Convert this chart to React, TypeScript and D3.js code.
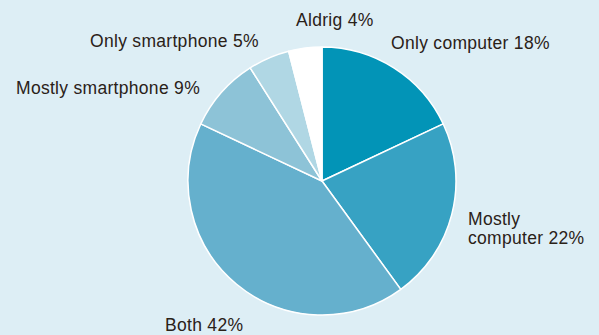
import React from "react";
import * as d3 from "d3";

const categories = ["Only computer", "Mostly computer", "Both", "Mostly smartphone", "Only smartphone", "Aldrig"];
const values = [18, 22, 42, 9, 5, 4];
const colors = ["#0294b7", "#37a2c3", "#65b0cd", "#8dc3d7", "#b0d7e4", "#ffffff"];
const labelLines = [
  ["Only computer 18%"],
  ["Mostly", "computer 22%"],
  ["Both 42%"],
  ["Mostly smartphone 9%"],
  ["Only smartphone 5%"],
  ["Aldrig 4%"],
];
const labelPos: [number, number][] = [
  [391, 48.5],
  [468, 225],
  [165, 330.5],
  [16, 93.5],
  [90, 46.5],
  [296, 25.5],
];

export default function App() {
  const W = 599, H = 335;
  const cx = 322, cy = 181, r = 134;
  const data = categories.map((c, i) => ({ c, v: values[i], i }));
  const pie = d3.pie<any>().value((d) => d.v).sort(null);
  const arc = d3.arc<any>().innerRadius(0).outerRadius(r);
  const arcs = pie(data);
  return (
    <svg width={W} height={H} style={{ position: "absolute", left: 0, top: 0 }}>
      <rect x={0} y={0} width={W} height={H} fill="#ddeef5" />
      <g transform={`translate(${cx},${cy})`}>
        {arcs.map((a, i) => (
          <path key={i} d={arc(a) as string} fill={colors[i]} stroke="#ffffff" strokeWidth={1.5} strokeLinejoin="round" />
        ))}
      </g>
      {labelLines.map((lines, i) => (
        <text key={i} fontFamily="'Liberation Sans', Arial, sans-serif" fontSize={17.5} letterSpacing={0.3} fill="#2a2118">
          {lines.map((l, j) => (
            <tspan key={j} x={labelPos[i][0]} y={labelPos[i][1] + j * 19.3}>{l}</tspan>
          ))}
        </text>
      ))}
    </svg>
  );
}
